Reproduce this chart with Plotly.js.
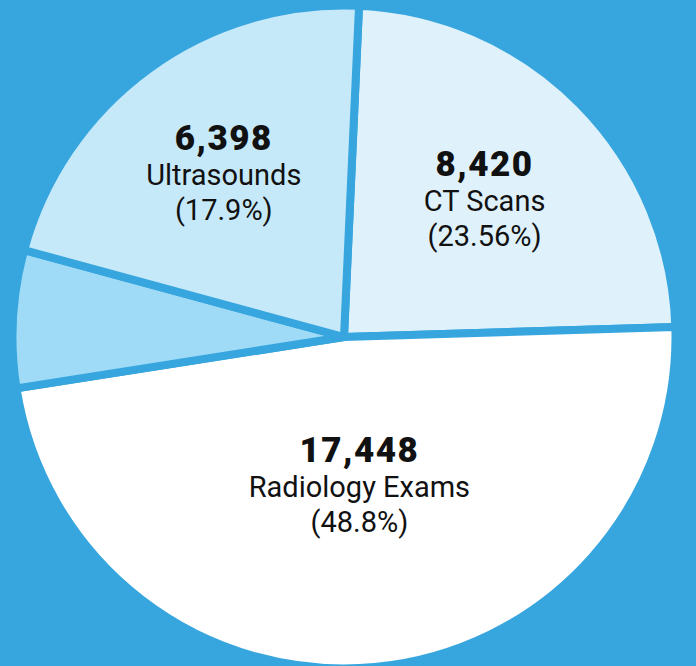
<!DOCTYPE html>
<html>
<head>
<meta charset="utf-8">
<script src="https://cdn.plot.ly/plotly-3.0.1.min.js"></script>
<style>
  html, body { margin: 0; padding: 0; background: #37a6de; overflow: hidden; }
  #chart { width: 696px; height: 672px; }
</style>
</head>
<body>
<div id="chart"></div>
<script>
// Categories in drawing order (clockwise from near 12 o'clock)
const categories = ["CT Scans", "Radiology Exams", "Other", "Ultrasounds"];
// Slice shares (percent)
const sliceShares = [23.8, 48.0, 6.7, 21.5];
// Printed counts and percentages shown on the chart
const countLabels = ["8,420", "17,448", "", "6,398"];
const percentLabels = ["23.56%", "48.8%", "", "17.9%"];
const sliceColors = ["#dff2fc", "#ffffff", "#9fdbf7", "#c6e9fa"];
const bgColor = "#37a6de";

const baseTemplate =
  '<span style="font-size:35px;font-weight:900;letter-spacing:1.5px">%{text}</span><br>' +
  '<span style="font-size:29px">%{label}</span><br>' +
  '<span style="font-size:29px">(%{customdata})</span>';
const templates = categories.map((c, i) => {
  if (countLabels[i] === "") return "";
  if (c === "Radiology Exams") return baseTemplate + "<br>&nbsp;";
  return baseTemplate;
});

const trace = {
  type: "pie",
  labels: categories,
  values: sliceShares,
  text: countLabels,
  customdata: percentLabels,
  texttemplate: templates,
  textinfo: "text",
  textposition: "inside",
  insidetextorientation: "horizontal",
  sort: false,
  direction: "clockwise",
  rotation: 2.6,
  marker: { colors: sliceColors, line: { color: bgColor, width: 8 } },
  textfont: { family: "Roboto, sans-serif", size: 27, color: "#111111" },
  hoverinfo: "none",
  showlegend: false,
  domain: { x: [12.5/696, 675.5/696], y: [3.5/672, 666.5/672] }
};

const layout = {
  width: 696, height: 672,
  margin: { l: 0, r: 0, t: 0, b: 0, pad: 0 },
  paper_bgcolor: bgColor,
  plot_bgcolor: bgColor,
  showlegend: false
};

Plotly.newPlot("chart", [trace], layout, { displayModeBar: false, staticPlot: true });
</script>
</body>
</html>
